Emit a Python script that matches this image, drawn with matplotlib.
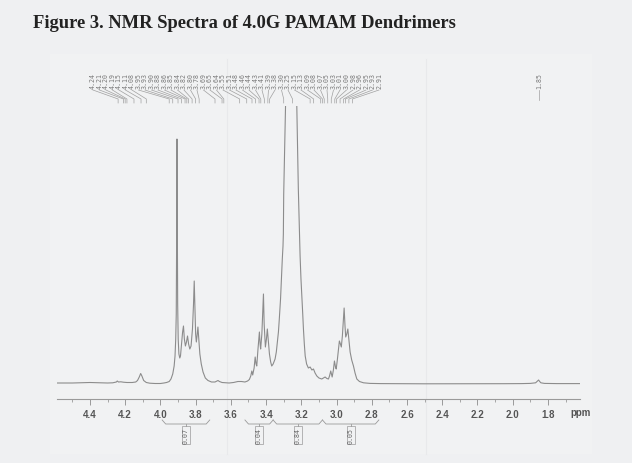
import numpy as np
import matplotlib
matplotlib.use('Agg')
import matplotlib.pyplot as plt
from matplotlib.ticker import MultipleLocator, FormatStrFormatter

# spectrum trace (ppm, intensity above baseline)
spec_ppm = [4.59, 4.50, 4.45, 4.40, 4.35, 4.30, 4.27, 4.25, 4.245, 4.238, 4.225, 4.21, 4.19, 4.16,
            4.14, 4.13, 4.12, 4.112, 4.105, 4.095, 4.08, 4.06, 4.03, 4.00, 3.98, 3.965, 3.95, 3.94,
            3.93, 3.922, 3.917, 3.913, 3.910, 3.908, 3.906, 3.904, 3.902, 3.899, 3.895, 3.89, 3.886,
            3.88, 3.874, 3.869, 3.864, 3.858, 3.852, 3.846, 3.84, 3.833, 3.826, 3.818, 3.812, 3.808,
            3.804, 3.80, 3.796, 3.792, 3.787, 3.782, 3.776, 3.768, 3.758, 3.745, 3.73, 3.71, 3.69,
            3.678, 3.673, 3.665, 3.65, 3.63, 3.61, 3.585, 3.56, 3.54, 3.52, 3.505, 3.495, 3.487,
            3.481, 3.476, 3.468, 3.462, 3.457, 3.453, 3.446, 3.438, 3.434, 3.431, 3.424, 3.418,
            3.415, 3.411, 3.404, 3.398, 3.393, 3.387, 3.381, 3.374, 3.368, 3.36, 3.349, 3.342,
            3.336, 3.33, 3.325, 3.318, 3.313, 3.308, 3.304, 3.302, 3.30, 3.296, 3.292, 3.288, 3.28,
            3.27, 3.258, 3.245, 3.235, 3.228, 3.224, 3.219, 3.217, 3.212, 3.207, 3.202, 3.197,
            3.192, 3.188, 3.183, 3.178, 3.17, 3.16, 3.15, 3.14, 3.131, 3.122, 3.112, 3.10, 3.084,
            3.075, 3.065, 3.055, 3.046, 3.04, 3.033, 3.028, 3.025, 3.018, 3.012, 3.006, 3.002,
            2.995, 2.989, 2.984, 2.978, 2.973, 2.967, 2.961, 2.957, 2.952, 2.948, 2.942, 2.936,
            2.929, 2.923, 2.914, 2.904, 2.895, 2.885, 2.87, 2.847, 2.81, 2.75, 2.65, 2.5, 2.35,
            2.2, 2.05, 1.95, 1.90, 1.87, 1.86, 1.853, 1.847, 1.84, 1.82, 1.75, 1.62]
spec_int = [1.0, 1.0, 1.2, 1.5, 1.2, 1.0, 1.2, 2.0, 3.0, 2.0, 2.2, 1.8, 1.5, 1.5,
            2.0, 3.5, 7.0, 10.5, 8.0, 3.5, 1.5, 0.8, 0.5, 0.5, 1.0, 1.5, 2.5, 5,
            10, 18, 28, 45, 70, 140, 245, 160, 80, 45, 30, 26, 28,
            40, 52, 58, 45, 38, 42, 48, 40, 35, 38, 55, 80, 103,
            75, 50, 42, 48, 57, 45, 30, 20, 12, 6, 3.5, 2, 2,
            3, 3.5, 2.5, 1.5, 1.2, 1, 1.5, 2.5, 2.5, 2, 3, 4.5, 8,
            13, 9, 16, 27, 20, 18, 35, 52, 40, 35, 50, 75,
            90, 60, 37, 45, 55, 42, 30, 22, 18, 20, 25, 32,
            42, 52, 65, 85, 105, 125, 138, 150, 190, 225, 260, 295, 360,
            440, 500, 440, 360, 300, 260, 215, 195, 160, 128, 105, 88,
            70, 55, 40, 28, 20, 16, 17, 14, 15, 11, 8, 6, 5,
            6, 7, 5.5, 5, 8, 13, 9, 7, 14, 23, 17, 15,
            25, 35, 43, 40, 37, 48, 65, 76, 58, 47, 50, 55,
            42, 32, 24, 18, 11, 5, 2.5, 1.2, 0.6, 0.4, 0.3, 0.2, 0.2,
            0.3, 0.3, 0.4, 0.6, 1.2, 2.8, 4, 2.5, 1.2, 0.6, 0.4, 0.4]

peak_labels = [4.24, 4.21, 4.20, 4.19, 4.15, 4.11, 4.08, 3.95, 3.93, 3.90, 3.88, 3.86, 3.85,
               3.84, 3.82, 3.80, 3.78, 3.69, 3.65, 3.64, 3.55, 3.51, 3.48, 3.46, 3.44, 3.43,
               3.41, 3.39, 3.38, 3.30, 3.25, 3.15, 3.13, 3.09, 3.08, 3.07, 3.05, 3.03, 3.01,
               3.00, 2.98, 2.96, 2.95, 2.93, 2.91]
lone_label = 1.85

integ_ranges = [(3.99, 3.72), (3.52, 3.36), (3.36, 3.08), (3.08, 2.76)]
integ_values = ['0.07', '0.04', '0.84', '0.05']

W, H = 632, 464
fig = plt.figure(figsize=(W / 100, H / 100), dpi=100, facecolor='#eff0f2')

# slightly lighter scanned panel + faint fold lines
fig.patches.append(plt.Rectangle((50 / W, 1 - 455 / H), 542 / W, 400 / H, transform=fig.transFigure,
                                 fc='#f1f2f3', ec='none', zorder=-2))
for xp in [227, 426]:
    fig.add_artist(plt.Line2D([xp / W, xp / W], [1 - 455 / H, 1 - 60 / H], color='#e8e9eb',
                              lw=0.8, zorder=-1))

fig.text(33 / W, 1 - 28 / H, 'Figure 3. NMR Spectra of 4.0G PAMAM Dendrimers',
         family='Liberation Serif', weight='bold', fontsize=13.3, color='#222222', va='baseline')

ax = fig.add_axes([57 / W, 1 - 400 / H, (580 - 57) / W, (400 - 107) / H])
ax.set_zorder(5)
ax.set_facecolor('none')
ax.plot(spec_ppm, spec_int, color='#8c8c8c', lw=0.8)
ax.set_xlim(4.587, 1.618)
ax.set_ylim(-15, 278)

for s in ['top', 'left', 'right']:
    ax.spines[s].set_visible(False)
ax.spines['bottom'].set_color('#9a9a9a')
ax.spines['bottom'].set_linewidth(0.8)
ax.set_yticks([])
ax.xaxis.set_minor_locator(MultipleLocator(0.1))
ax.xaxis.set_major_formatter(FormatStrFormatter('%.1f'))
ax.set_xticks(np.round(np.arange(4.4, 1.79, -0.2), 1))
ax.tick_params(axis='x', which='major', length=4, width=0.7, color='#9a9a9a',
               labelsize=7, labelcolor='#555555', pad=3)
ax.tick_params(axis='x', which='minor', length=2, width=0.6, color='#9a9a9a')
for t in ax.get_xticklabels():
    t.set_fontweight('bold')
    t.set_family('Liberation Sans')
ax.text(1.675, -28, 'ppm', fontsize=7, color='#555555', weight='bold', family='Liberation Sans',
        ha='left', va='center', clip_on=False)

# peak pick labels across the top
lab_x = np.linspace(4.383, 2.759, len(peak_labels))
for lx, v in zip(lab_x, peak_labels):
    ax.text(lx, 296, '%.2f' % v, rotation=90, fontsize=4.8, family='DejaVu Sans Mono',
            color='#7a7a7a', ha='center', va='bottom', clip_on=False)
    ax.plot([lx, v, v], [294, 285, 281], color='#a0a0a0', lw=0.5, clip_on=False)
ax.text(lone_label, 296, '%.2f' % lone_label, rotation=90, fontsize=4.8, family='DejaVu Sans Mono',
        color='#7a7a7a', ha='center', va='bottom', clip_on=False)
ax.plot([lone_label, lone_label], [294, 284], color='#a0a0a0', lw=0.5, clip_on=False)

# integral brackets under the axis
for (a, b), val in zip(integ_ranges, integ_values):
    mid = (a + b) / 2
    d = 0.02
    ax.plot([a, a - d, b + d, b], [-36, -40, -40, -36], color='#9a9a9a', lw=0.6, clip_on=False)
    ax.plot([mid, mid], [-40, -42], color='#9a9a9a', lw=0.6, clip_on=False)
    ax.text(mid, -43, val, rotation=90, fontsize=4.8, family='DejaVu Sans Mono', color='#666666',
            ha='center', va='top', clip_on=False,
            bbox=dict(boxstyle='square,pad=0.15', fc='none', ec='#9a9a9a', lw=0.5))

fig.savefig('out.png', dpi=100, facecolor=fig.get_facecolor())
